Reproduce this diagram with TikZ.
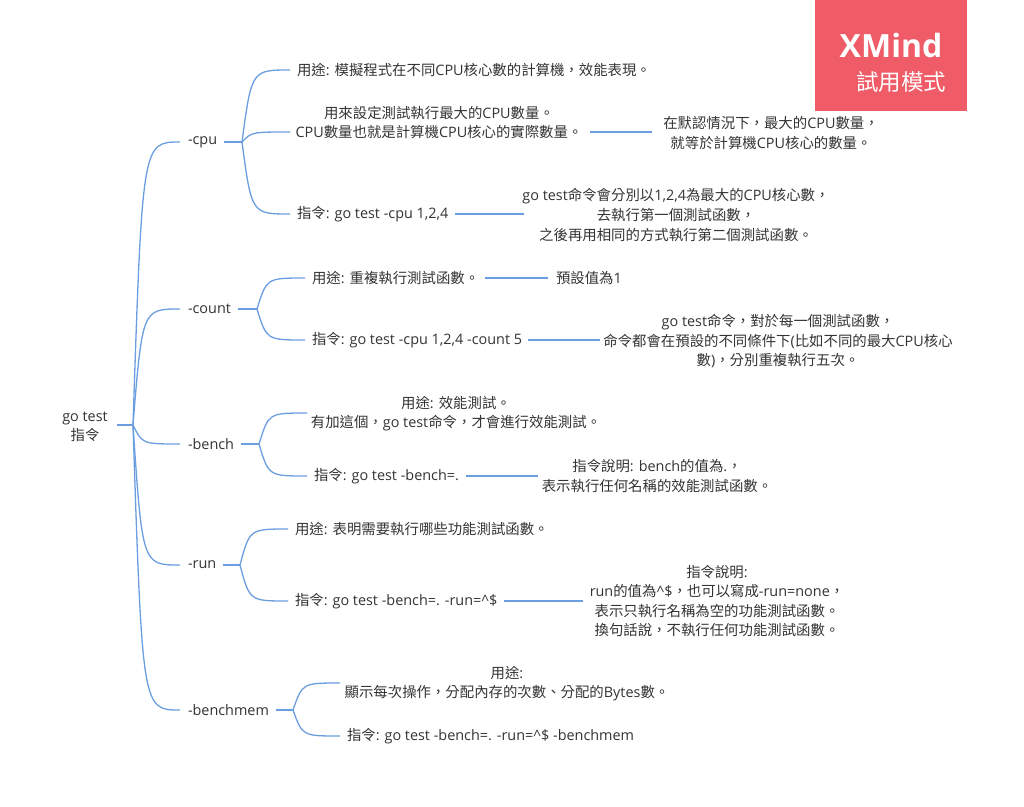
\documentclass[tikz,border=0pt]{standalone}
\usepackage{fontspec}
\setmainfont{Open Sans}
\newfontfamily\cjkf{Noto Sans CJK TC}
\usetikzlibrary{calc}
\XeTeXinterchartokenstate=1
\newXeTeXintercharclass\CJKcls
\def\setcjkrange#1#2{\count255=#1\relax
  \loop\XeTeXcharclass\count255=\CJKcls\relax
  \ifnum\count255<#2\relax\advance\count255 by 1\relax\repeat}
\setcjkrange{"3000}{"303F}
\setcjkrange{"4E00}{"9FFF}
\setcjkrange{"FF00}{"FFEF}
\XeTeXinterchartoks 0 \CJKcls = {\begingroup\cjkf}
\XeTeXinterchartoks 4095 \CJKcls = {\begingroup\cjkf}
\XeTeXinterchartoks \CJKcls 0 = {\endgroup}
\XeTeXinterchartoks \CJKcls 4095 = {\endgroup}
\definecolor{conn}{HTML}{6A9EE0}
\definecolor{txt}{HTML}{333333}
\definecolor{badge}{HTML}{EF5B66}
\begin{document}
\begin{tikzpicture}[x=1pt,y=-1pt,
  every node/.style={inner sep=0pt, outer sep=0pt, text=txt, font=\fontsize{14.4}{19.6}\selectfont},
  lt/.style={anchor=west},
  ml/.style={align=center},
  cn/.style={draw=conn, line width=1.3pt},
  lk/.style={draw=conn, line width=1.1pt}]
\useasboundingbox (0,0) rectangle (1024,806);

% curve from branch point #1 to end point #2
\def\br#1#2{\draw[cn] (#1) .. controls ($(#1 |- #2)!0.2!(#2)$) .. (#2);}

% badge
\fill[badge] (815,0) rectangle (967,111);
\node[text=white, font=\fontsize{32}{36}\selectfont\bfseries] (xm) at (891,45) {XMind};
\node[text=white, font=\fontsize{22.5}{26}\selectfont] (xt) at (901,82) {試用模式};

% root
\node[ml] (root) at (85,427) {go test\\指令};
\coordinate (rb) at (133,425);
\coordinate (rs) at (117,425);
\draw[cn] (rs) -- (rb);

% level 1
\node[lt] (cpu) at (188,142) {-cpu};
\node[lt] (count) at (188,309) {-count};
\node[lt] (bench) at (188,444) {-bench};
\node[lt] (run) at (188,565) {-run};
\node[lt] (bmem) at (188,710) {-benchmem};
\foreach \n in {cpu,count,bench,run,bmem}{
  \coordinate (\n e) at ([xshift=-8pt]\n.west);
  \br{rb}{\n e}
}

% -cpu
\coordinate (cpub) at (242,142);
\draw[cn] ([xshift=7pt]cpu.east) -- (cpub);
\node[lt] (cpu1) at (297,70) {用途: 模擬程式在不同CPU核心數的計算機，效能表現。};
\node[ml] (cpu2) at (439,122.5) {用來設定測試執行最大的CPU數量。\\CPU數量也就是計算機CPU核心的實際數量。};
\node[lt] (cpu3) at (297,214) {指令: go test -cpu 1,2,4};
\coordinate (cpu1e) at ([xshift=-7pt]cpu1.west);
\coordinate (cpu2e) at (290,132);
\coordinate (cpu3e) at ([xshift=-7pt]cpu3.west);
\br{cpub}{cpu1e}
\br{cpub}{cpu2e}
\br{cpub}{cpu3e}
\node[ml] (cpu2a) at (771,133) {在默認情況下，最大的CPU數量，\\就等於計算機CPU核心的數量。};
\coordinate (cpu2s) at (590,132);
\coordinate (cpu2t) at (652,132);
\draw[lk] (cpu2s) -- (cpu2t);
\node[ml] (cpu3a) at (676,215) {go test命令會分別以1,2,4為最大的CPU核心數，\\去執行第一個測試函數，\\之後再用相同的方式執行第二個測試函數。};
\coordinate (cpu3t) at (524,0);
\draw[lk] ([xshift=7pt]cpu3.east) -- (cpu3.east -| cpu3t);

% -count
\coordinate (cntb) at (257,309);
\draw[cn] ([xshift=7pt]count.east) -- (cntb);
\node[lt] (cnt1) at (312,278) {用途: 重複執行測試函數。};
\node[lt] (cnt2) at (312,340) {指令: go test -cpu 1,2,4 -count 5};
\coordinate (cnt1e) at ([xshift=-7pt]cnt1.west);
\coordinate (cnt2e) at ([xshift=-7pt]cnt2.west);
\br{cntb}{cnt1e}
\br{cntb}{cnt2e}
\node[lt] (cnt1a) at (556,278) {預設值為1};
\coordinate (cnt1s) at (485,278);
\draw[lk] (cnt1s) -- ([xshift=-8pt]cnt1a.west);
\node[ml] (cnt2a) at (778,341) {go test命令，對於每一個測試函數，\\命令都會在預設的不同條件下(比如不同的最大CPU核心\\數)，分別重複執行五次。};
\coordinate (cnt2t) at (600,0);
\draw[lk] ([xshift=6pt]cnt2.east) -- (cnt2.east -| cnt2t);

% -bench
\coordinate (bnb) at (259,444);
\draw[cn] ([xshift=7pt]bench.east) -- (bnb);
\node[ml] (bn1) at (456,413.5) {用途: 效能測試。\\有加這個，go test命令，才會進行效能測試。};
\node[lt] (bn2) at (314,476) {指令: go test -bench=.};
\coordinate (bn1e) at (307,413);
\coordinate (bn2e) at ([xshift=-7pt]bn2.west);
\br{bnb}{bn1e}
\br{bnb}{bn2e}
\node[ml] (bn2a) at (657,476) {指令說明: bench的值為.，\\表示執行任何名稱的效能測試函數。};
\coordinate (bn2t) at (538,0);
\draw[lk] ([xshift=7pt]bn2.east) -- (bn2.east -| bn2t);

% -run
\coordinate (rnb) at (240,565);
\draw[cn] ([xshift=7pt]run.east) -- (rnb);
\node[lt] (rn1) at (295,529) {用途: 表明需要執行哪些功能測試函數。};
\node[lt] (rn2) at (295,601) {指令: go test -bench=. -run=\^{}\$};
\coordinate (rn1e) at ([xshift=-7pt]rn1.west);
\coordinate (rn2e) at ([xshift=-7pt]rn2.west);
\br{rnb}{rn1e}
\br{rnb}{rn2e}
\node[ml] (rn2a) at (717,601) {指令說明:\\run的值為\^{}\$，也可以寫成-run=none，\\表示只執行名稱為空的功能測試函數。\\換句話說，不執行任何功能測試函數。};
\coordinate (rn2t) at (583,0);
\draw[lk] ([xshift=7pt]rn2.east) -- (rn2.east -| rn2t);

% -benchmem
\coordinate (bmb) at (293,710);
\draw[cn] ([xshift=7pt]bmem.east) -- (bmb);
\node[ml] (bm1) at (507,683.5) {用途:\\顯示每次操作，分配內存的次數、分配的Bytes數。};
\node[lt] (bm2) at (347,736) {指令: go test -bench=. -run=\^{}\$ -benchmem};
\coordinate (bm1e) at (340,683);
\coordinate (bm2e) at ([xshift=-7pt]bm2.west);
\br{bmb}{bm1e}
\br{bmb}{bm2e}
\end{tikzpicture}
\end{document}
